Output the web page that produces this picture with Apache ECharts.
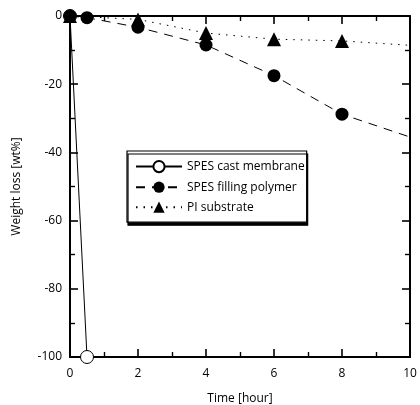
<!DOCTYPE html>
<html><head><meta charset="utf-8">
<script src="https://cdn.jsdelivr.net/npm/echarts@6/dist/echarts.min.js"></script>
<style>html,body{margin:0;padding:0;background:#fff}#c{width:420px;height:405px}</style>
</head><body><div id="c"></div>
<script>
const seriesNames = ['SPES cast membrane', 'SPES filling polymer', 'PI substrate'];
const castTime = [0, 0.5];
const castLoss = [0, -100];
const fillTime = [0, 0.5, 2, 4, 6, 8];
const fillLoss = [0, -0.5, -3.3, -8.5, -17.5, -28.8];
const fillTrendEnd = [10, -35.5];
const piTime = [0, 2, 4, 6, 8];
const piLoss = [0, -1, -5, -6.8, -7.3];
const piTrendEnd = [10, -8.6];
const xTicks = [0, 2, 4, 6, 8, 10];
const yTicks = [-100, -80, -60, -40, -20, 0];

const font = '"Open Sans", "Noto Sans", sans-serif';
const pairs = (xs, ys) => xs.map((x, i) => [x, ys[i]]);
const trend = p => ({ value: p, symbol: 'none' });

const chart = echarts.init(document.getElementById('c'), null, { renderer: 'canvas' });
const axisCommon = () => ({
  type: 'value',
  axisLine: { show: true, onZero: false, lineStyle: { color: '#000', width: 2 } },
  axisTick: { show: true, inside: true, length: 8, lineStyle: { color: '#000', width: 1.6 } },
  minorTick: { show: true, splitNumber: 2, length: 5, lineStyle: { color: '#000', width: 1.4 } },
  splitLine: { show: false },
  minorSplitLine: { show: false }
});
chart.setOption({
  animation: false,
  textStyle: { fontFamily: font },
  grid: { left: 70, right: 10, top: 16, bottom: 48, containLabel: false, outerBoundsMode: 'none' },
  xAxis: [
    Object.assign(axisCommon(), {
      min: xTicks[0], max: xTicks[xTicks.length - 1], interval: 2, position: 'bottom',
      name: 'Time [hour]', nameLocation: 'middle', nameGap: 36,
      nameTextStyle: { fontSize: 12, color: '#000', fontFamily: font },
      axisLabel: { color: '#000', fontSize: 12, margin: 11, fontFamily: font }
    }),
    Object.assign(axisCommon(), {
      min: xTicks[0], max: xTicks[xTicks.length - 1], interval: 2, position: 'top',
      axisLabel: { show: false }
    })
  ],
  yAxis: [
    Object.assign(axisCommon(), {
      min: yTicks[0], max: yTicks[yTicks.length - 1], interval: 20, position: 'left',
      name: 'Weight loss [wt%]', nameLocation: 'middle', nameGap: 47, nameRotate: 90,
      nameTextStyle: { fontSize: 12, color: '#000', fontFamily: font },
      axisLabel: { color: '#000', fontSize: 12, margin: 8, fontFamily: font }
    }),
    Object.assign(axisCommon(), {
      min: yTicks[0], max: yTicks[yTicks.length - 1], interval: 20, position: 'right',
      axisLabel: { show: false }
    })
  ],
  legend: {
    orient: 'vertical', left: 127, top: 151,
    padding: [9, 2, 9, 8], itemGap: 8, itemWidth: 46, itemHeight: 14,
    backgroundColor: '#fff', borderColor: '#000', borderWidth: 1.2, borderRadius: 0,
    shadowColor: '#000', shadowBlur: 0, shadowOffsetX: 1, shadowOffsetY: 3,
    textStyle: { color: '#000', fontSize: 12, fontFamily: font },
    data: seriesNames
  },
  series: [
    {
      name: seriesNames[0], type: 'line', z: 2,
      data: pairs(castTime, castLoss),
      symbol: 'circle', symbolSize: 13, showAllSymbol: true,
      lineStyle: { color: '#000', width: 1 },
      itemStyle: { color: '#fff', borderColor: '#000', borderWidth: 1 }
    },
    {
      name: seriesNames[1], type: 'line', z: 3,
      data: pairs(fillTime, fillLoss).concat([trend(fillTrendEnd)]),
      symbol: 'circle', symbolSize: 13, showAllSymbol: true,
      lineStyle: { color: '#000', width: 1, type: [9, 7] },
      itemStyle: { color: '#000', borderColor: '#000', borderWidth: 0 }
    },
    {
      name: seriesNames[2], type: 'line', z: 4,
      data: pairs(piTime, piLoss).concat([trend(piTrendEnd)]),
      symbol: 'triangle', symbolSize: 14, showAllSymbol: true,
      lineStyle: { color: '#000', width: 1, type: [1.5, 6] },
      itemStyle: { color: '#000', borderColor: '#000', borderWidth: 0 }
    }
  ]
});
</script></body></html>
